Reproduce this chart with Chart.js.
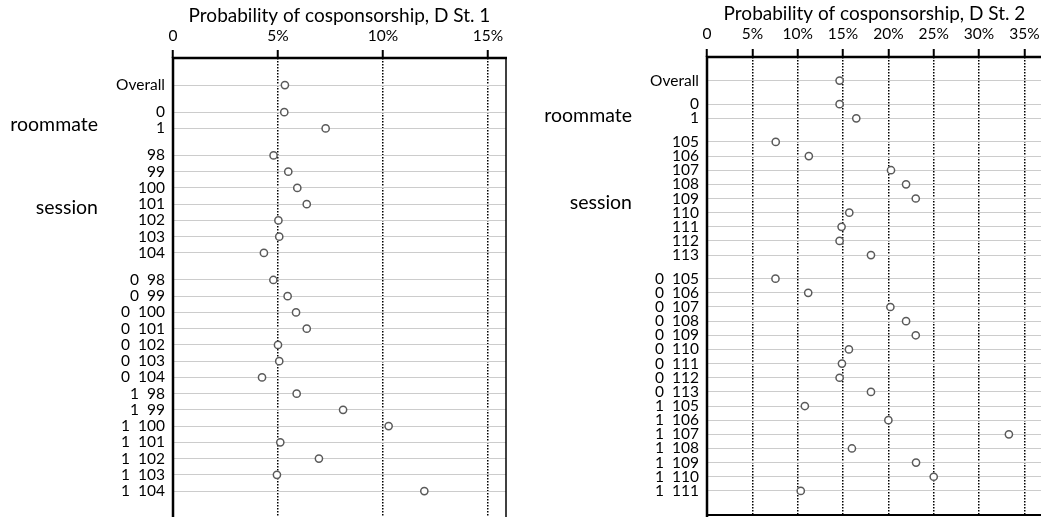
<!DOCTYPE html>
<html>
<head>
<meta charset="utf-8">
<script src="https://cdn.jsdelivr.net/npm/chart.js@4.4.1/dist/chart.umd.min.js"></script>
<style>
  html, body { margin: 0; padding: 0; background: #fff; overflow: hidden; }
  #wrap1 { position: absolute; left: 0; top: 0; width: 520px; height: 520px; }
  #wrap2 { position: absolute; left: 520px; top: 0; width: 522px; height: 517px; }
</style>
</head>
<body>
<div id="wrap1"><canvas id="chart1"></canvas></div>
<div id="wrap2"><canvas id="chart2"></canvas></div>
<script>
// D St. 1
const rows1 = ['Overall', '0', '1',
  '98', '99', '100', '101', '102', '103', '104',
  '0  98', '0  99', '0  100', '0  101', '0  102', '0  103', '0  104',
  '1  98', '1  99', '1  100', '1  101', '1  102', '1  103', '1  104'];
const values1 = [5.33, 5.30, 7.27,
  4.79, 5.49, 5.92, 6.37, 5.02, 5.06, 4.33,
  4.78, 5.46, 5.86, 6.37, 5.00, 5.06, 4.24,
  5.89, 8.10, 10.27, 5.11, 6.95, 4.95, 11.97];
const groupNames1 = ['', 'roommate', 'session', ''];
const groupSizes1 = [1, 2, 7, 14];
const xTicks1 = [0, 5, 10, 15];

// D St. 2
const rows2 = ['Overall', '0', '1',
  '105', '106', '107', '108', '109', '110', '111', '112', '113',
  '0  105', '0  106', '0  107', '0  108', '0  109', '0  110', '0  111', '0  112', '0  113',
  '1  105', '1  106', '1  107', '1  108', '1  109', '1  110', '1  111'];
const values2 = [14.62, 14.62, 16.46,
  7.58, 11.23, 20.29, 21.95, 23.02, 15.69, 14.84, 14.62, 18.08,
  7.55, 11.16, 20.22, 21.95, 23.02, 15.65, 14.88, 14.62, 18.08,
  10.79, 20.00, 33.29, 15.98, 23.05, 25.00, 10.34];
const groupNames2 = ['', 'roommate', 'session', ''];
const groupSizes2 = [1, 2, 9, 16];
const xTicks2 = [0, 5, 10, 15, 20, 25, 30, 35];

const GAP = 1.667;
const FONT = 'Lato, "Noto Sans", sans-serif';

// row positions on the y scale: groups separated by a gap
function rowPositions(sizes) {
  const pos = [];
  let i = 0;
  sizes.forEach((n, g) => {
    for (let k = 0; k < n; k++) { pos.push((g + 1) * GAP + i - g); i++; }
  });
  return pos;
}

function makeChart(id, rows, values, groupNames, groupSizes, xTicks, opt) {
  const pos = rowPositions(groupSizes);
  const points = values.map((v, i) => ({ x: v, y: pos[i] }));

  const framePlugin = {
    id: 'frame',
    afterDraw(chart) {
      const { ctx, chartArea: a, scales } = chart;
      ctx.save();
      ctx.strokeStyle = '#000';
      ctx.lineWidth = 2.5;
      ctx.beginPath();
      ctx.moveTo(a.left, a.bottom + 2); ctx.lineTo(a.left, a.top);
      ctx.lineTo(a.right + 1, a.top);
      ctx.stroke();
      if (opt.rightBorder) {
        ctx.lineWidth = 1.5;
        ctx.beginPath(); ctx.moveTo(a.right, a.top); ctx.lineTo(a.right, a.bottom + 2); ctx.stroke();
      }
      if (opt.bottomBorder) {
        ctx.lineWidth = 2;
        ctx.beginPath(); ctx.moveTo(a.left, a.bottom); ctx.lineTo(a.right, a.bottom); ctx.stroke();
      }
      // group labels
      ctx.fillStyle = '#000';
      ctx.font = '19.5px ' + FONT;
      ctx.textAlign = 'right';
      ctx.textBaseline = 'middle';
      let i = 0;
      groupNames.forEach((name, g) => {
        const n = groupSizes[g];
        if (name) {
          const mid = (pos[i] + pos[i + n - 1]) / 2;
          ctx.fillText(name, opt.groupX, scales.y.getPixelForValue(mid) + 4);
        }
        i += n;
      });
      ctx.restore();
    }
  };

  return new Chart(document.getElementById(id), {
    type: 'scatter',
    data: {
      datasets: [{
        data: points,
        pointStyle: 'circle',
        pointRadius: 3.6,
        pointBorderWidth: 1.5,
        pointBorderColor: '#5a5a5a',
        pointBackgroundColor: '#fff',
        pointHoverRadius: 3.6
      }]
    },
    options: {
      responsive: true,
      maintainAspectRatio: false,
      animation: false,
      layout: { autoPadding: false, padding: { left: 0, right: opt.padRight, top: 0, bottom: opt.padBottom } },
      plugins: { legend: { display: false }, tooltip: { enabled: false } },
      scales: {
        x: {
          type: 'linear',
          position: 'top',
          min: 0,
          max: opt.xMax,
          afterBuildTicks: (s) => { s.ticks = xTicks.map(v => ({ value: v })); },
          afterFit: (s) => { s.height = opt.topH; s.paddingLeft = 0; s.paddingRight = 0; },
          ticks: {
            color: '#000',
            font: { family: FONT, size: 15.5 },
            padding: opt.tickPad,
            maxRotation: 0,
            callback: (v) => v === 0 ? '0' : v + '%'
          },
          title: {
            display: true,
            text: opt.title,
            color: '#000',
            font: { family: FONT, size: 19 },
            padding: { top: opt.titlePad, bottom: 0 }
          },
          grid: {
            color: (c) => (c.tick && c.tick.value === 0) ? 'rgba(0,0,0,0)' : '#000',
            lineWidth: 1.5,
            drawTicks: true,
            tickLength: 8,
            tickWidth: 2,
            tickColor: '#000',
            tickBorderDash: []
          },
          border: { display: false, dash: [1.5, 1.5] }
        },
        y: {
          type: 'linear',
          reverse: true,
          min: 0,
          max: opt.yMax,
          afterBuildTicks: (s) => { s.ticks = pos.map(v => ({ value: v })); },
          afterFit: (s) => { s.width = opt.leftW; s.paddingTop = 0; s.paddingBottom = 0; },
          ticks: {
            color: '#000',
            font: { family: FONT, size: 15.5 },
            padding: 8,
            autoSkip: false,
            callback: (v, i) => rows[i]
          },
          grid: { color: '#cccccc', lineWidth: 1, drawTicks: false },
          border: { display: false }
        }
      }
    },
    plugins: [framePlugin]
  });
}

makeChart('chart1', rows1, values1, groupNames1, groupSizes1, xTicks1, {
  title: 'Probability of cosponsorship, D St. 1',
  xMax: 15.86, yMax: 28.45, leftW: 173, topH: 58, padRight: 14, padBottom: 0,
  tickPad: 5, titlePad: 4, groupX: 98, rightBorder: true, bottomBorder: false
});

makeChart('chart2', rows2, values2, groupNames2, groupSizes2, xTicks2, {
  title: 'Probability of cosponsorship, D St. 2',
  xMax: 36.94, yMax: 32.37, leftW: 187, topH: 57, padRight: 0, padBottom: 2,
  tickPad: 6, titlePad: 2, groupX: 112, rightBorder: false, bottomBorder: true
});
</script>
</body>
</html>
